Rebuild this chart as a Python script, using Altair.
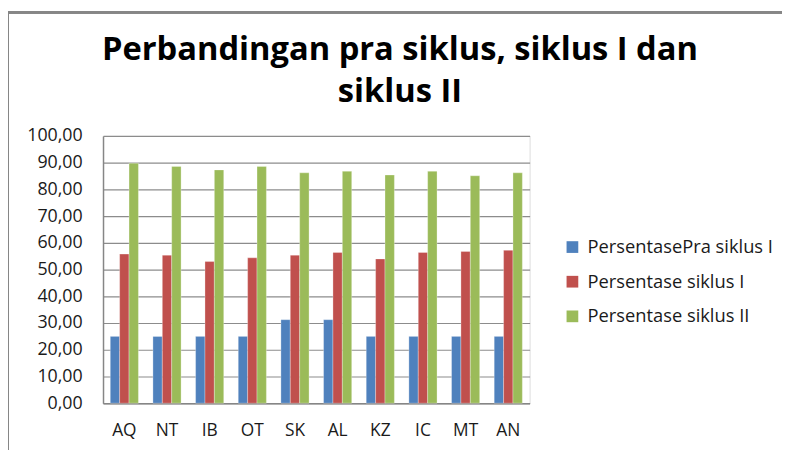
import altair as alt
import pandas as pd

categories = ["AQ", "NT", "IB", "OT", "SK", "AL", "KZ", "IC", "MT", "AN"]
series_names = ["PersentasePra siklus I", "Persentase siklus I", "Persentase siklus II"]
pra_siklus = [25.0, 25.0, 25.0, 25.0, 31.25, 31.25, 25.0, 25.0, 25.0, 25.0]
siklus_1 = [55.8, 55.4, 53.0, 54.4, 55.4, 56.4, 54.0, 56.4, 56.8, 57.2]
siklus_2 = [89.8, 88.6, 87.3, 88.6, 86.2, 86.8, 85.4, 86.8, 85.1, 86.2]
colors = ["#4F81BD", "#C0504D", "#9BBB59"]
y_ticks = [0, 10, 20, 30, 40, 50, 60, 70, 80, 90, 100]
title_text = "Perbandingan pra siklus, siklus I dan\nsiklus II"

rows = []
for i, c in enumerate(categories):
    for s, vals in zip(series_names, [pra_siklus, siklus_1, siklus_2]):
        rows.append({"Siswa": c, "Seri": s, "Nilai": vals[i]})
df = pd.DataFrame(rows)

FONT = "Open Sans"

bars = alt.Chart(df).mark_bar(stroke="white", strokeWidth=0.5, strokeOpacity=0.6).encode(
    x=alt.X("Siswa:N", sort=categories,
            scale=alt.Scale(paddingInner=0.34, paddingOuter=0.17),
            axis=alt.Axis(title=None, labelAngle=0, labelFontSize=17.5, labelPadding=19,
                          labelColor="#1a1a1a", labelFont=FONT, ticks=False,
                          domainColor="#868686", domainWidth=1.5)),
    xOffset=alt.XOffset("Seri:N", sort=series_names),
    y=alt.Y("Nilai:Q", scale=alt.Scale(domain=[0, 100], nice=False),
            axis=alt.Axis(title=None, values=y_ticks, labelFontSize=18, labelPadding=21,
                          labelColor="#1a1a1a", labelFont=FONT, ticks=False,
                          labelExpr="replace(format(datum.value, '.2f'), '.', ',')",
                          grid=True, gridColor="#8c8c8c", gridWidth=1.2,
                          domainColor="#868686", domainWidth=1.5)),
    color=alt.Color("Seri:N", sort=series_names,
                    scale=alt.Scale(domain=series_names, range=colors),
                    legend=alt.Legend(title=None, orient="none", legendX=465, legendY=103,
                                      symbolType="square", symbolSize=140,
                                      symbolStrokeWidth=0, labelFontSize=18.5,
                                      labelFont=FONT, labelColor="#1a1a1a",
                                      labelLimit=400, rowPadding=16, labelOffset=6)),
)

title = alt.Chart(pd.DataFrame({"t": [title_text]})).mark_text(
    font=FONT, fontSize=33, fontWeight="bold", color="#000000",
    align="center", baseline="alphabetic", lineBreak="\n", lineHeight=43,
).encode(text="t:N", x=alt.value(300), y=alt.value(-77))

frame_left = alt.Chart(df).mark_rule(color="#868686", strokeWidth=2).encode(
    x=alt.value(-96), y=alt.value(-125), y2=alt.value(330))
frame_top = alt.Chart(df).mark_rule(color="#868686", strokeWidth=2).encode(
    x=alt.value(-96), x2=alt.value(700), y=alt.value(-125))

chart = alt.layer(frame_left, frame_top, bars, title).properties(
    width=431, height=270,
    autosize=alt.AutoSizeParams(type="none"),
    padding={"left": 96, "top": 127, "right": 255, "bottom": 45},
).configure_view(stroke=None).configure(background="white")

chart.save("out.html", embed_options={"renderer": "svg", "actions": False})
